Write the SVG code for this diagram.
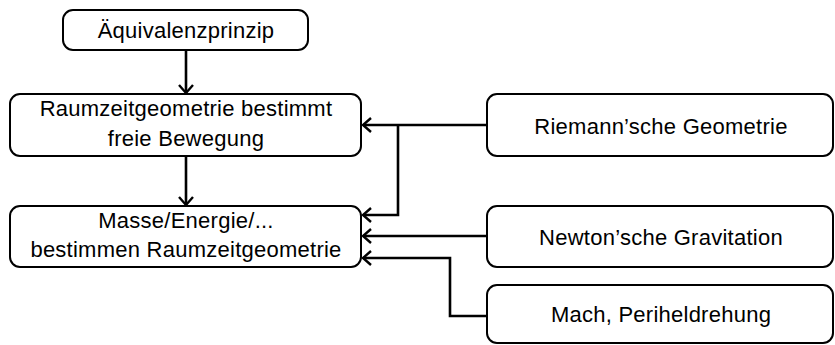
<svg xmlns="http://www.w3.org/2000/svg" width="835" height="345" viewBox="0 0 835 345">
<style>
.box{fill:#fff;stroke:#000;stroke-width:2}
.t{font-family:"Liberation Sans",Arial,sans-serif;font-size:22px;letter-spacing:0.25px;text-anchor:middle;fill:#000}
.c{fill:none;stroke:#000;stroke-width:2.6;marker-end:url(#ah)}
</style>
<defs>
<marker id="ah" markerUnits="userSpaceOnUse" markerWidth="14" markerHeight="16" refX="10" refY="8" orient="auto">
<path d="M2,1 L10,8 L2,15" fill="none" stroke="#000" stroke-width="2.4"/>
</marker>
</defs>
<g id="connectors">
<path class="c" d="M186,51 V93"/>
<path class="c" d="M186,157 V205"/>
<path class="c" d="M487,125 H363"/>
<path class="c" d="M398,125 V215 H363"/>
<path class="c" d="M487,236 H363"/>
<path class="c" d="M487,316 H450 V258 H363"/>
</g>
<g id="aequivalenz"><rect class="box" x="63" y="10" width="245" height="40" rx="10"/><text class="t" x="186" y="37.5">Äquivalenzprinzip</text></g>
<g id="raumzeit"><rect class="box" x="10" y="94" width="351" height="62" rx="10"/><text class="t" x="186" y="116">Raumzeitgeometrie bestimmt</text><text class="t" x="186" y="146">freie Bewegung</text></g>
<g id="masse"><rect class="box" x="10" y="206" width="351" height="61" rx="10"/><text class="t" x="186" y="228">Masse/Energie/...</text><text class="t" x="186" y="257">bestimmen Raumzeitgeometrie</text></g>
<g id="riemann"><rect class="box" x="487" y="94" width="346" height="62" rx="10"/><text class="t" x="661" y="134">Riemann’sche Geometrie</text></g>
<g id="newton"><rect class="box" x="487" y="206" width="346" height="61" rx="10"/><text class="t" x="661" y="245">Newton’sche Gravitation</text></g>
<g id="mach"><rect class="box" x="487" y="285" width="346" height="58" rx="10"/><text class="t" x="661" y="322">Mach, Periheldrehung</text></g>
</svg>
